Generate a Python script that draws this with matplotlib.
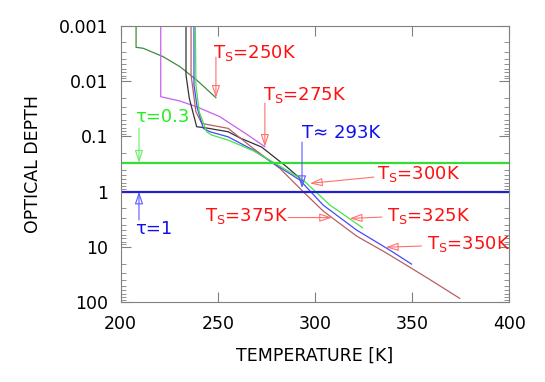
import matplotlib
matplotlib.use("Agg")
import matplotlib.pyplot as plt
from matplotlib.ticker import LogLocator, NullFormatter, FixedLocator

# temperature profiles, (T [K], optical depth)
T_250 = [207.9, 207.9, 211.6, 221.9, 230.5, 239.1, 249.0]
tau_250 = [0.001, 0.00246, 0.00256, 0.00364, 0.00551, 0.0096, 0.0200]

T_275 = [220.6, 220.6, 222.8, 230.5, 239.1, 251.1, 256.2, 263.9, 274.2]
tau_275 = [0.001, 0.0192, 0.0200, 0.0230, 0.0292, 0.0442, 0.0582, 0.0871, 0.154]

T_300 = [233.6, 233.6, 235.3, 239.1, 243.4, 255.3, 261.4, 272.5, 285.4, 293.9]
tau_300 = [0.001, 0.00779, 0.0206, 0.067, 0.0699, 0.0826, 0.107, 0.156, 0.355, 0.643]

T_325 = [238.4, 238.7, 240.4, 244.2, 246.8, 255.3, 268.2, 281.0, 293.9, 307.7, 324.5]
tau_325 = [0.001, 0.0118, 0.0359, 0.0826, 0.0947, 0.117, 0.182, 0.33, 0.617, 1.75, 4.50]

T_350 = [237.7, 237.7, 239.4, 242.5, 245.9, 255.3, 268.2, 280.0, 292.2, 304.2, 321.4, 338.5, 349.7]
tau_350 = [0.001, 0.0118, 0.0308, 0.0717, 0.0826, 0.102, 0.177, 0.33, 0.617, 1.75, 4.94, 11.4, 20.4]

T_375 = [236.2, 236.2, 238.7, 241.7, 244.2, 255.3, 268.2, 281.9, 293.9, 304.2, 321.4, 336.0, 347.8, 361.2, 374.5]
tau_375 = [0.001, 0.00779, 0.0359, 0.0582, 0.0607, 0.0717, 0.165, 0.379, 1.00, 2.24, 6.35, 12.4, 22.1, 43.1, 84.9]

profiles = [
    (T_250, tau_250, "#3d8b3d"),
    (T_275, tau_275, "#c860f0"),
    (T_300, tau_300, "#333333"),
    (T_375, tau_375, "#b86060"),
    (T_350, tau_350, "#4848ff"),
    (T_325, tau_325, "#40e840"),
]

tau_ref = [0.3, 1.0]
tau_ref_colors = ["#33dd33", "#2020d0"]

y_ticks = [0.001, 0.01, 0.1, 1, 10, 100]
y_tick_labels = ["0.001", "0.01", "0.1", "1", "10", "100"]
x_ticks = [200, 250, 300, 350, 400]

plt.rcParams["font.family"] = "DejaVu Sans"

fig = plt.figure(figsize=(5.45, 3.82), dpi=100)
ax = fig.add_axes([0.2215, 0.2086, 0.713, 0.7241])

for T, tau, c in profiles:
    ax.plot(T, tau, color=c, lw=0.9)

for t, c in zip(tau_ref, tau_ref_colors):
    ax.axhline(t, color=c, lw=1.6)

ax.set_yscale("log")
ax.set_xlim(200, 400)
ax.set_ylim(100, 0.001)
ax.yaxis.set_major_locator(FixedLocator(y_ticks))
ax.set_yticklabels(y_tick_labels)
ax.yaxis.set_minor_locator(LogLocator(base=10, subs=range(2, 10), numticks=20))
ax.yaxis.set_minor_formatter(NullFormatter())
ax.set_xticks(x_ticks)

for s in ax.spines.values():
    s.set_color("#808080")
ax.tick_params(which="both", direction="in", top=True, right=True,
               color="#808080", labelsize=12.5)
ax.tick_params(which="major", length=7, pad=9)
ax.tick_params(which="minor", length=3.5)

ax.set_xlabel("TEMPERATURE [K]", fontsize=12.5, labelpad=10)
ax.set_ylabel("OPTICAL DEPTH", fontsize=12.5, labelpad=12)

red = "#ff1010"
red_arrow = "#ff7070"


def arrow(tail, tip, color):
    ax.annotate("", xy=tip, xytext=tail,
                arrowprops=dict(arrowstyle="-|>,head_length=0.75,head_width=0.25",
                                ec=color, fc="none", lw=0.8,
                                shrinkA=0, shrinkB=0))


# labels and arrows
ax.text(247.5, 0.0031, "T$_\\mathregular{S}$=250K", color=red, fontsize=13, va="center")
arrow((249.0, 0.0037), (T_250[-1], tau_250[-1]), red_arrow)

ax.text(273.0, 0.0179, "T$_\\mathregular{S}$=275K", color=red, fontsize=13, va="center")
arrow((274.2, 0.025), (T_275[-1], tau_275[-1]), red_arrow)

ax.text(207.4, 0.045, "τ=0.3", color="#22ee22", fontsize=13, va="center")
arrow((209.4, 0.071), (209.4, tau_ref[0]), "#66ee66")

ax.text(207.4, 4.75, "τ=1", color="#1010ee", fontsize=13, va="center")
arrow((209.4, 3.26), (209.4, tau_ref[1]), "#5a5aff")

ax.text(293.3, 0.087, "T≈ 293K", color="#1010ee", fontsize=13, va="center")
arrow((293.3, 0.127), (293.3, 0.86), "#5a5aff")

ax.text(331.8, 0.48, "T$_\\mathregular{S}$=300K", color=red, fontsize=13, va="center")
arrow((330.3, 0.545), (297.4, 0.708), red_arrow)

ax.text(337.0, 2.76, "T$_\\mathregular{S}$=325K", color=red, fontsize=13, va="center")
arrow((334.4, 2.88), (317.9, 3.04), red_arrow)

ax.text(357.6, 8.87, "T$_\\mathregular{S}$=350K", color=red, fontsize=13, va="center")
arrow((354.8, 9.6), (336.5, 10.1), red_arrow)

ax.text(243.4, 2.76, "T$_\\mathregular{S}$=375K", color=red, fontsize=13, va="center")
arrow((286.1, 2.94), (308.7, 2.94), red_arrow)

fig.savefig("out.png", dpi=100)
